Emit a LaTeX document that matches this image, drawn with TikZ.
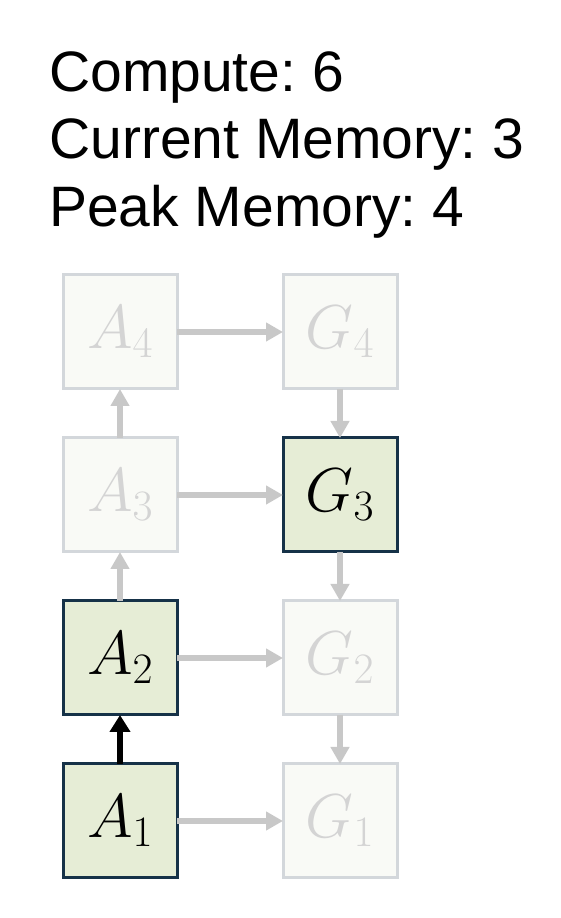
\documentclass[tikz,border=0pt]{standalone}
\usepackage{fix-cm}
\usepackage{fontspec}
\setmainfont{Liberation Sans}
\usetikzlibrary{positioning}
\usetikzlibrary{arrows.meta}
\definecolor{livefill}{HTML}{E6EDD6}
\definecolor{liveline}{HTML}{163248}
\definecolor{idlefill}{HTML}{F9FAF6}
\definecolor{idleline}{HTML}{D3D7DB}
\definecolor{idletext}{HTML}{D4D4D4}
\definecolor{flowgrey}{HTML}{C8C8C8}
\frenchspacing
\tikzset{
  cell/.style={minimum size=114pt,inner sep=0pt,outer sep=0pt,line width=3pt,font=\fontsize{62}{64}\selectfont},
  idle/.style={cell,draw=idleline,fill=idlefill,text=idletext},
  live/.style={cell,draw=liveline,fill=livefill,text=black},
  flow/.style={draw=flowgrey,line width=5.5pt,-{Triangle[length=17pt,width=18pt]}},
  used/.style={draw=black,line width=6.5pt,-{Triangle[length=17pt,width=20pt]}},
  stat/.style={anchor=base west,inner sep=0pt,font=\fontsize{57}{60}\selectfont}
}
\begin{document}
\begin{tikzpicture}[x=1pt,y=1pt,node distance=49pt and 106pt]
\useasboundingbox (0,0) rectangle (560,918);

\node[stat] (compute) at (49,826) {Compute: 6};
\node[stat] (curmem) at (49,759) {Current Memory: 3};
\node[stat] (peakmem) at (49,691) {Peak Memory: 4};

\node[live] (a1) at (120,97) {$A_1$};
\node[live] (a2) [above=of a1] {$A_2$};
\node[idle] (a3) [above=of a2] {$A_3$};
\node[idle] (a4) [above=of a3] {$A_4$};

\node[idle] (g1) [right=of a1] {$G_1$};
\node[idle] (g2) [right=of a2] {$G_2$};
\node[live] (g3) [right=of a3] {$G_3$};
\node[idle] (g4) [right=of a4] {$G_4$};

\foreach \i in {1,...,4}
  \draw[flow] (a\i) -- (g\i);
\foreach \i/\j in {2/3,3/4}
  \draw[flow] (a\i) -- (a\j);
\foreach \i/\j in {4/3,3/2,2/1}
  \draw[flow] (g\i) -- (g\j);
\draw[used] (a1) -- (a2);

\end{tikzpicture}
\end{document}
